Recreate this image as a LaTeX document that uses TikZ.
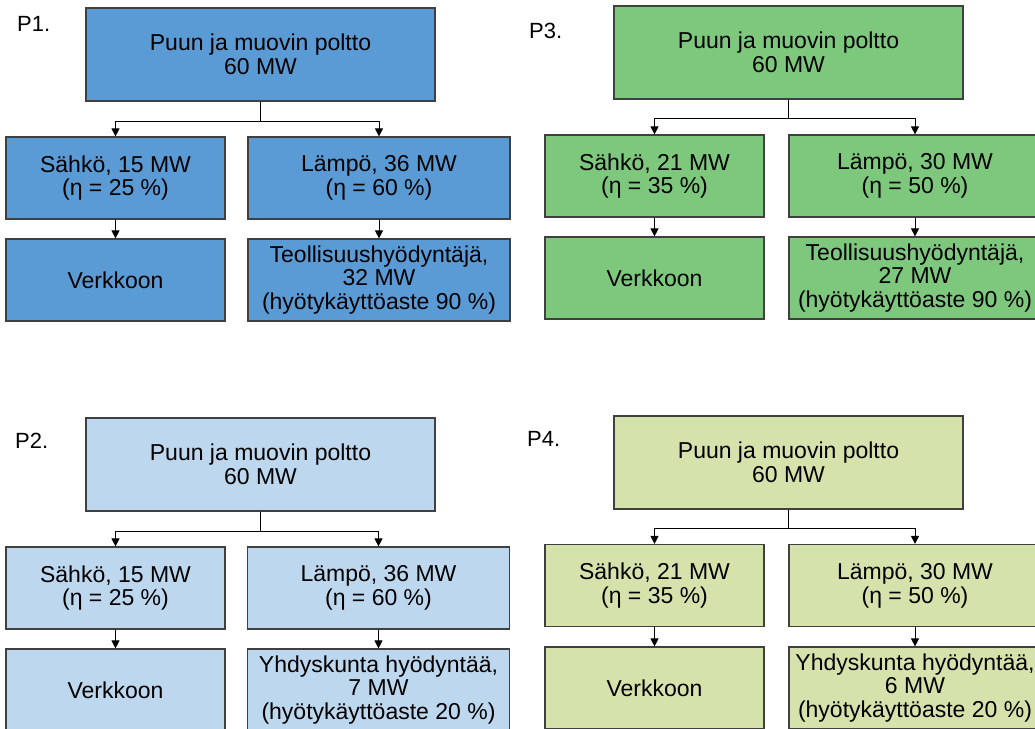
\documentclass[tikz,border=0pt]{standalone}
\usepackage{fontspec}
\setmainfont{Liberation Sans}
\usepackage{xcolor}
\usepackage{tikz}
\usetikzlibrary{arrows.meta}
\definecolor{pone}{RGB}{91,155,213}
\definecolor{ptwo}{RGB}{189,215,238}
\definecolor{pthree}{RGB}{126,200,126}
\definecolor{pfour}{RGB}{214,226,172}
\tikzstyle{box}=[draw=black!75,line width=1.2pt,inner sep=0pt,align=center,font=\fontsize{23}{23.8}\selectfont]
\tikzstyle{topbox}=[box,minimum width=349pt,minimum height=93pt]
\tikzstyle{lbox}=[box,minimum width=219pt,minimum height=82pt]
\tikzstyle{rbox}=[box,minimum width=262pt,minimum height=82pt]
\tikzstyle{plabel}=[anchor=base west,inner sep=0pt,font=\fontsize{22}{24}\selectfont]
\tikzstyle{flow}=[line width=1pt,-{Triangle[length=8pt,width=8pt]}]

\begin{document}
\begin{tikzpicture}[x=1pt,y=-1pt]
	\useasboundingbox (0,0) rectangle (1035,728);
	% P1
	\node[plabel] (p1) at (17,31) {P1.};
	\node[topbox,fill=pone] (top1) at (260.5,54.5) {Puun ja muovin poltto\\60 MW};
	\node[lbox,fill=pone] (sah1) at (115.5,178) {Sähkö, 15 MW\\(η = 25 \%)};
	\node[rbox,fill=pone] (lam1) at (379,178) {Lämpö, 36 MW\\(η = 60 \%)};
	\node[lbox,fill=pone] (ver1) at (115.5,280) {Verkkoon};
	\node[rbox,fill=pone] (hyo1) at (379,280) {Teollisuushyödyntäjä,\\32 MW\\(hyötykäyttöaste 90 \%)};
	\draw[flow] (top1.south) -- ++(0,20) -| (sah1.north);
	\draw[flow] (top1.south) -- ++(0,20) -| (lam1.north);
	\draw[flow] (sah1) -- (ver1);
	\draw[flow] (lam1) -- (hyo1);
	% P3
	\node[plabel] (p3) at (529,38) {P3.};
	\node[topbox,fill=pthree] (top3) at (788.5,52.5) {Puun ja muovin poltto\\60 MW};
	\node[lbox,fill=pthree] (sah3) at (654.5,176) {Sähkö, 21 MW\\(η = 35 \%)};
	\node[rbox,fill=pthree,minimum width=252pt] (lam3) at (915,176) {Lämpö, 30 MW\\(η = 50 \%)};
	\node[lbox,fill=pthree] (ver3) at (654.5,278) {Verkkoon};
	\node[rbox,fill=pthree,minimum width=252pt] (hyo3) at (915,278) {Teollisuushyödyntäjä,\\27 MW\\(hyötykäyttöaste 90 \%)};
	\draw[flow] (top3.south) -- ++(0,19) -| (sah3.north);
	\draw[flow] (top3.south) -- ++(0,19) -| (lam3.north);
	\draw[flow] (sah3) -- (ver3);
	\draw[flow] (lam3) -- (hyo3);
	% P2
	\node[plabel] (p2) at (15,448) {P2.};
	\node[topbox,fill=ptwo] (top2) at (260.5,464.5) {Puun ja muovin poltto\\60 MW};
	\node[lbox,fill=ptwo] (sah2) at (115.5,588) {Sähkö, 15 MW\\(η = 25 \%)};
	\node[rbox,fill=ptwo] (lam2) at (378.5,588) {Lämpö, 36 MW\\(η = 60 \%)};
	\node[lbox,fill=ptwo] (ver2) at (115.5,690) {Verkkoon};
	\node[rbox,fill=ptwo] (hyo2) at (378.5,690) {Yhdyskunta hyödyntää,\\7 MW\\(hyötykäyttöaste 20 \%)};
	\draw[flow] (top2.south) -- ++(0,20) -| (sah2.north);
	\draw[flow] (top2.south) -- ++(0,20) -| (lam2.north);
	\draw[flow] (sah2) -- (ver2);
	\draw[flow] (lam2) -- (hyo2);
	% P4
	\node[plabel] (p4) at (527,446) {P4.};
	\node[topbox,fill=pfour] (top4) at (788.5,462.5) {Puun ja muovin poltto\\60 MW};
	\node[lbox,fill=pfour] (sah4) at (654.5,585.5) {Sähkö, 21 MW\\(η = 35 \%)};
	\node[rbox,fill=pfour,minimum width=252pt] (lam4) at (915,585.5) {Lämpö, 30 MW\\(η = 50 \%)};
	\node[lbox,fill=pfour] (ver4) at (654.5,688) {Verkkoon};
	\node[rbox,fill=pfour,minimum width=252pt] (hyo4) at (915,688) {Yhdyskunta hyödyntää,\\6 MW\\(hyötykäyttöaste 20 \%)};
	\draw[flow] (top4.south) -- ++(0,19) -| (sah4.north);
	\draw[flow] (top4.south) -- ++(0,19) -| (lam4.north);
	\draw[flow] (sah4) -- (ver4);
	\draw[flow] (lam4) -- (hyo4);
\end{tikzpicture}
\end{document}
